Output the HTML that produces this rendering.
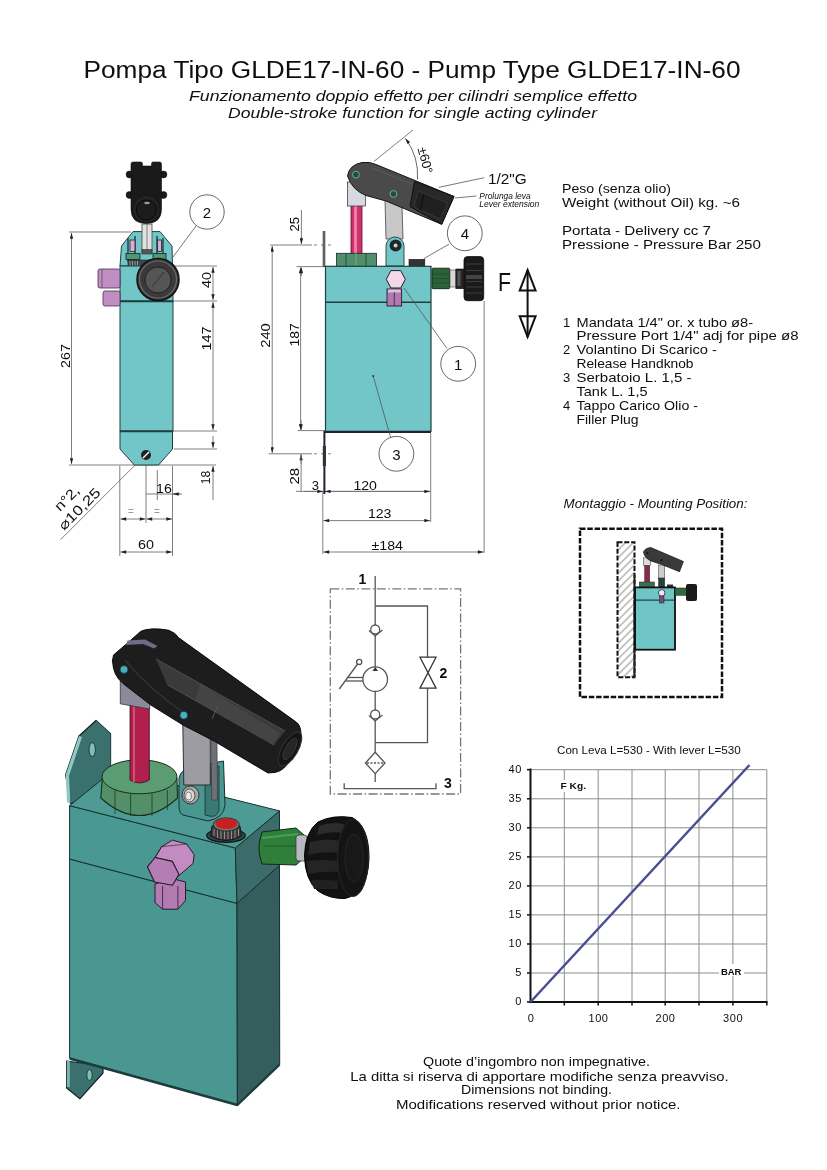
<!DOCTYPE html>
<html><head><meta charset="utf-8">
<style>
html,body{margin:0;padding:0;background:#fff;}
body{width:827px;height:1170px;overflow:hidden;position:relative;}
svg{position:absolute;left:0;top:0;will-change:transform;}
text{font-family:"Liberation Sans",sans-serif;fill:#0e0e0e;}
.dim{stroke:#707070;stroke-width:0.9;fill:none;}
.ldr{stroke:#555;stroke-width:0.8;fill:none;}
.t13{font-size:13px;}
</style></head><body>
<svg width="827" height="1170" viewBox="0 0 827 1170">
<defs>
 <marker id="ar" viewBox="0 0 10 6" refX="10" refY="3" markerWidth="9" markerHeight="3.4" orient="auto-start-reverse" markerUnits="userSpaceOnUse">
  <path d="M0,0 L10,3 L0,6 z" fill="#222"/>
 </marker>
 <pattern id="hatch" patternUnits="userSpaceOnUse" width="5.5" height="6" patternTransform="rotate(45)">
  <line x1="1" y1="0" x2="1" y2="6" stroke="#b4b4b4" stroke-width="1.5"/>
 </pattern>
</defs>

<!-- TITLE -->
<text x="83.5" y="78" font-size="23.5" textLength="657" lengthAdjust="spacingAndGlyphs">Pompa Tipo GLDE17-IN-60 - Pump Type GLDE17-IN-60</text>
<text x="189" y="101" font-size="15" font-style="italic" textLength="448" lengthAdjust="spacingAndGlyphs">Funzionamento doppio effetto per cilindri semplice effetto</text>
<text x="228" y="118" font-size="15" font-style="italic" textLength="369" lengthAdjust="spacingAndGlyphs">Double-stroke function for single acting cylinder</text>

<!-- SIDE_VIEW -->
<g id="side">
 <!-- dimension lines -->
 <g class="dim">
  <line x1="69" y1="232" x2="131" y2="232"/>
  <line x1="69" y1="465" x2="216" y2="465"/>
  <line x1="71.5" y1="233" x2="71.5" y2="464" marker-start="url(#ar)" marker-end="url(#ar)"/>
  <line x1="173" y1="266" x2="217" y2="266"/>
  <line x1="173" y1="301" x2="217" y2="301"/>
  <line x1="173" y1="431" x2="217" y2="431"/>
  <line x1="174" y1="449" x2="217" y2="449"/>
  <line x1="213" y1="267" x2="213" y2="300" marker-start="url(#ar)" marker-end="url(#ar)"/>
  <line x1="213" y1="302" x2="213" y2="430" marker-start="url(#ar)" marker-end="url(#ar)"/>
  <line x1="213" y1="436" x2="213" y2="448" marker-end="url(#ar)"/>
  <line x1="213" y1="500" x2="213" y2="466" marker-end="url(#ar)"/>
  <line x1="119.8" y1="466" x2="119.8" y2="556"/>
  <line x1="172.5" y1="466" x2="172.5" y2="556"/>
  <line x1="146" y1="458" x2="146" y2="523"/>
  <line x1="157.3" y1="470" x2="157.3" y2="500"/>
  <line x1="146" y1="494" x2="180" y2="494"/>
  <line x1="182" y1="494" x2="173" y2="494" marker-end="url(#ar)"/>
  <line x1="120.5" y1="519" x2="145.5" y2="519" marker-start="url(#ar)" marker-end="url(#ar)"/>
  <line x1="146.5" y1="519" x2="172" y2="519" marker-start="url(#ar)" marker-end="url(#ar)"/>
  <line x1="120.5" y1="552" x2="172" y2="552" marker-start="url(#ar)" marker-end="url(#ar)"/>
  <line x1="135.5" y1="464.7" x2="60.5" y2="539.7"/>
 </g>
 <g font-size="13" fill="#222">
  <text transform="translate(69.8,356) rotate(-90)" text-anchor="middle" textLength="24" lengthAdjust="spacingAndGlyphs">267</text>
  <text transform="translate(211,280) rotate(-90)" text-anchor="middle" textLength="16" lengthAdjust="spacingAndGlyphs">40</text>
  <text transform="translate(211,338.6) rotate(-90)" text-anchor="middle" textLength="24" lengthAdjust="spacingAndGlyphs">147</text>
  <text transform="translate(209.5,477.4) rotate(-90)" text-anchor="middle" textLength="13.5" lengthAdjust="spacingAndGlyphs">18</text>
  <text x="156" y="492.5" textLength="15.8" lengthAdjust="spacingAndGlyphs">16</text>
  <text x="131" y="515" text-anchor="middle" style="fill:#999" font-size="10">=</text>
  <text x="157" y="515" text-anchor="middle" style="fill:#999" font-size="10">=</text>
  <text x="138" y="549.4" textLength="16" lengthAdjust="spacingAndGlyphs">60</text>
  <text transform="translate(60,512) rotate(-45)" font-size="14" textLength="29" lengthAdjust="spacingAndGlyphs">n°2,</text>
  <text transform="translate(64,531) rotate(-45)" font-size="14" textLength="53" lengthAdjust="spacingAndGlyphs">⌀10,25</text>
 </g>
 <!-- lever end -->
 <g fill="#1a1a1a" stroke="#0d0d0d" stroke-width="0.6">
  <circle cx="129.5" cy="174.5" r="3.4"/>
  <circle cx="163.5" cy="174.5" r="3.4"/>
  <circle cx="129.5" cy="195" r="3.4"/>
  <circle cx="163.5" cy="195" r="3.4"/>
  <path d="M131,164 Q131,162 133,162 L141,162 Q142.5,162 142.5,164 L142.5,166 L151.5,166 L151.5,164 Q151.5,162 153,162 L159.5,162 Q161.5,162 161.5,164 L161.5,209 Q161.5,223.5 146.3,223.5 Q131,223.5 131,209 z"/>
 </g>
 <circle cx="146.4" cy="209.2" r="14" fill="#222" stroke="#111" stroke-width="0.8"/>
 <circle cx="146.4" cy="210" r="10" fill="#1c1c1c" stroke="#0a0a0a" stroke-width="1"/>
 <ellipse cx="147" cy="203" rx="2.8" ry="1.2" fill="#999"/>
 <!-- upper housing -->
 <polygon points="133,231.6 160,231.6 172,246 172.5,266 120,266 121.5,246" fill="#72c6c8" stroke="#1f3f3f" stroke-width="1"/>
 <path d="M128,238 L128,262 M163,238 L163,262 M135,236 L135,254 M157,236 L157,254" stroke="#123" stroke-width="1.2" fill="none"/>
 <rect x="130" y="240" width="5" height="11.5" fill="#d4b0d4" stroke="#222" stroke-width="0.8"/>
 <rect x="157.5" y="240" width="4" height="11.5" fill="#d4b0d4" stroke="#222" stroke-width="0.8"/>
 <rect x="126" y="253.5" width="14" height="6" fill="#4f9a6a" stroke="#123" stroke-width="0.8"/>
 <rect x="153" y="253.5" width="13" height="6" fill="#4f9a6a" stroke="#123" stroke-width="0.8"/>
 <rect x="128" y="260" width="36" height="6" fill="#3a4a4a" stroke="#123" stroke-width="0.6"/>
 <path d="M130,261 v5 M132.5,261 v5 M135,261 v5 M137.5,261 v5" stroke="#c9a0c9" stroke-width="0.8"/>
 <rect x="142" y="224" width="10" height="30" fill="#e2e2de" stroke="#444" stroke-width="0.8"/>
 <line x1="147" y1="224" x2="147" y2="254" stroke="#444" stroke-width="0.6"/>
 <rect x="142" y="249.5" width="10" height="4" fill="#555" stroke="#222" stroke-width="0.5"/>
 <!-- body -->
 <rect x="120" y="266" width="53" height="35" fill="#72c6c8" stroke="#1f3f3f" stroke-width="1"/>
 <rect x="120" y="301" width="53" height="130" fill="#72c6c8" stroke="#1f3f3f" stroke-width="1"/>
 <line x1="120" y1="301.5" x2="173" y2="301.5" stroke="#1f3f3f" stroke-width="1.6"/>
 <polygon points="120,431 172.5,431 172.5,449 158.5,465 134.3,465 120,449" fill="#72c6c8" stroke="#1f3f3f" stroke-width="1"/>
 <line x1="120" y1="431.5" x2="172.5" y2="431.5" stroke="#1f3f3f" stroke-width="1.6"/>
 <circle cx="146" cy="455" r="5" fill="#222"/>
 <line x1="143" y1="458" x2="149" y2="452" stroke="#fff" stroke-width="1.4"/>
 <!-- pink fitting -->
 <rect x="98" y="269" width="22" height="19" rx="2" fill="#c08ec0" stroke="#4a3050" stroke-width="0.8"/>
 <line x1="102" y1="269" x2="102" y2="288" stroke="#4a3050" stroke-width="0.6"/>
 <rect x="103" y="291" width="17" height="15" rx="2" fill="#c08ec0" stroke="#4a3050" stroke-width="0.8"/>
 <!-- sideknob -->
 <circle cx="158" cy="279.5" r="21" fill="#3a3a3a" stroke="#111" stroke-width="1.5"/>
 <circle cx="158" cy="279.5" r="18.5" fill="none" stroke="#6a6a6a" stroke-width="1.2"/>
 <circle cx="158" cy="280" r="13" fill="#555" stroke="#222" stroke-width="1"/>
 <line x1="152" y1="287" x2="164" y2="272" stroke="#333" stroke-width="1"/>
 <!-- balloon 2 -->
 <circle cx="207" cy="212" r="17.2" fill="#fff" stroke="#555" stroke-width="0.9"/>
 <text x="207" y="217.5" font-size="15" text-anchor="middle">2</text>
 <line class="ldr" x1="196" y1="226" x2="173" y2="257"/>
</g>
<!-- SIDE_VIEW_END -->

<!-- FRONT_VIEW -->
<g id="front">
 <g class="dim">
  <line x1="270" y1="245" x2="312" y2="245"/>
  <line x1="314" y1="245" x2="334" y2="245" stroke-dasharray="3,4"/>
  <line x1="296.6" y1="266.6" x2="325" y2="266.6"/>
  <line x1="268.7" y1="453.8" x2="312" y2="453.8"/>
  <line x1="314" y1="453.8" x2="334" y2="453.8" stroke-dasharray="3,4"/>
  <line x1="297.7" y1="430.6" x2="325" y2="430.6"/>
  <line x1="301.4" y1="210" x2="301.4" y2="244" />
  <line x1="301.4" y1="236" x2="301.4" y2="244" marker-end="url(#ar)"/>
  <line x1="301.4" y1="276" x2="301.4" y2="267.5" marker-end="url(#ar)"/>
  <line x1="272.2" y1="246" x2="272.2" y2="453" marker-start="url(#ar)" marker-end="url(#ar)"/>
  <line x1="300.6" y1="267.5" x2="300.6" y2="430" marker-start="url(#ar)" marker-end="url(#ar)"/>
  <line x1="301.1" y1="420" x2="301.1" y2="430" marker-end="url(#ar)"/>
  <line x1="301.1" y1="464" x2="301.1" y2="454.5" marker-end="url(#ar)"/>
  <line x1="301.1" y1="454" x2="301.1" y2="491.4"/>
  <line x1="296" y1="491.4" x2="430.7" y2="491.4"/>
  <line x1="304" y1="491.4" x2="323" y2="491.4" marker-end="url(#ar)"/>
  <line x1="325" y1="491.4" x2="430" y2="491.4" marker-start="url(#ar)" marker-end="url(#ar)"/>
  <line x1="322.8" y1="491" x2="322.8" y2="554"/>
  <line x1="430.7" y1="433" x2="430.7" y2="522"/>
  <line x1="484.1" y1="301" x2="484.1" y2="553"/>
  <line x1="323.5" y1="520.6" x2="430" y2="520.6" marker-start="url(#ar)" marker-end="url(#ar)"/>
  <line x1="323.5" y1="552" x2="483.5" y2="552" marker-start="url(#ar)" marker-end="url(#ar)"/>
 </g>
 <g font-size="13" fill="#222">
  <text transform="translate(299.2,224.3) rotate(-90)" text-anchor="middle" textLength="14.6" lengthAdjust="spacingAndGlyphs">25</text>
  <text transform="translate(270.4,335.5) rotate(-90)" text-anchor="middle" textLength="24.7" lengthAdjust="spacingAndGlyphs">240</text>
  <text transform="translate(299.4,334.8) rotate(-90)" text-anchor="middle" textLength="23.2" lengthAdjust="spacingAndGlyphs">187</text>
  <text transform="translate(298.6,476.2) rotate(-90)" text-anchor="middle" textLength="16.7" lengthAdjust="spacingAndGlyphs">28</text>
  <text x="311.7" y="489.5">3</text>
  <text x="353.4" y="489.5" textLength="23.6" lengthAdjust="spacingAndGlyphs">120</text>
  <text x="367.9" y="517.9" textLength="23.6" lengthAdjust="spacingAndGlyphs">123</text>
  <text x="371.5" y="549.8" textLength="31.5" lengthAdjust="spacingAndGlyphs">±184</text>
 </g>
 <!-- angle -->
 <line class="dim" x1="374" y1="161.4" x2="413" y2="130" stroke="#555"/>
 <path d="M405.4,138.5 A61.5,61.5 0 0 1 417.5,179.6" fill="none" stroke="#555" stroke-width="0.9" marker-start="url(#ar)"/>
 <text transform="translate(421,161.4) rotate(75)" text-anchor="middle" font-size="13">±60°</text>
 <!-- 1/2"G -->
 <line class="ldr" x1="484.2" y1="177.7" x2="438.7" y2="187.4"/>
 <text x="488" y="183.5" font-size="15" textLength="38.7" lengthAdjust="spacingAndGlyphs">1/2"G</text>
 <line class="ldr" x1="476.4" y1="196" x2="455" y2="198"/>
 <text x="479.3" y="199" font-size="8.5" font-style="italic" textLength="51.3" lengthAdjust="spacingAndGlyphs">Prolunga leva</text>
 <text x="479.3" y="206.7" font-size="8.5" font-style="italic" textLength="60" lengthAdjust="spacingAndGlyphs">Lever extension</text>
 <!-- filler stick -->
 <rect x="323" y="231.6" width="2" height="35" fill="#777" stroke="#222" stroke-width="0.5"/>
 <!-- red rod -->
 <rect x="351" y="205" width="11" height="49" fill="#d0306a" stroke="#5a1030" stroke-width="0.8"/>
 <rect x="354" y="205" width="3" height="49" fill="#f07aa6" />
 <!-- gray block -->
 <rect x="347.4" y="182" width="18" height="24" fill="#d8d8e0" stroke="#444" stroke-width="0.8"/>
 <!-- gray link -->
 <polygon points="385,200 401.8,200 403,239 386,239" fill="#c8c8c8" stroke="#444" stroke-width="0.8"/>
 <!-- teal link base -->
 <path d="M386,266 L386,246 A9,9 0 0 1 404,246 L404,266 z" fill="#72c6c8" stroke="#1f3f3f" stroke-width="0.9"/>
 <circle cx="395.6" cy="245.5" r="6" fill="#1a2a2a"/>
 <circle cx="395.6" cy="245.5" r="2" fill="#f0c0d0"/>
 <!-- lever -->
 <path d="M347.5,176 Q349,165 362,162.5 Q370,161.5 376,164.5 L454,196.5 L441.7,224.3 L386,201 L366,195.5 Q352,190 347.5,176 z" fill="#4a4a4a" stroke="#151515" stroke-width="1"/>
 <path d="M414.5,181.5 L454,196.5 L441.7,224.3 L410,206.5 z" fill="#282828" stroke="#111" stroke-width="1"/>
 <path d="M418,191 L448,203 L440,219 L414,207 z" fill="#202020" stroke="#3a3a3a" stroke-width="0.8"/>
 <path d="M424,194 L420,210" stroke="#111" stroke-width="1.2"/>
 <path d="M372,168 L412,184" stroke="#5a5a5a" stroke-width="1"/>
 <circle cx="355.9" cy="174.7" r="3.4" fill="#2a4a40" stroke="#7fb" stroke-width="0.6"/>
 <circle cx="393.5" cy="194" r="3.4" fill="#2a4a40" stroke="#7fb" stroke-width="0.6"/>
 <!-- green nut -->
 <rect x="336.5" y="253.3" width="40" height="13.3" fill="#4f8f6a" stroke="#223" stroke-width="0.8"/>
 <line x1="346" y1="253.3" x2="346" y2="266.6" stroke="#223" stroke-width="0.6"/>
 <line x1="356" y1="253.3" x2="356" y2="266.6" stroke="#6fb08a" stroke-width="1"/>
 <line x1="366" y1="253.3" x2="366" y2="266.6" stroke="#223" stroke-width="0.6"/>
 <!-- filler plug -->
 <rect x="409" y="259.4" width="15.8" height="7.2" fill="#333" stroke="#111" stroke-width="0.6"/>
 <!-- body -->
 <rect x="325.5" y="266.3" width="105.5" height="165" fill="#72c6c8" stroke="#1f3f3f" stroke-width="1.2"/>
 <line x1="325.5" y1="302.2" x2="431" y2="302.2" stroke="#1f3f3f" stroke-width="1.4"/>
 <!-- bracket -->
 <polyline points="324.4,494 324.4,432 431,432" fill="none" stroke="#223" stroke-width="2"/>
 <rect x="322.8" y="446" width="3.2" height="20" fill="#333"/>
 <!-- hex nut -->
 <polygon points="386.3,279.3 390.9,270.6 400.7,270.6 405.3,279.3 400.7,288 390.9,288" fill="#f2d8e8" stroke="#2a1a2a" stroke-width="1"/>
 <rect x="387" y="289" width="14.6" height="17" fill="#b07ab0" stroke="#2a1a2a" stroke-width="0.9"/>
 <rect x="388" y="289.5" width="12.6" height="3" fill="#e0c0e0"/>
 <line x1="394.3" y1="292" x2="394.3" y2="306" stroke="#2a1a2a" stroke-width="0.7"/>
 <!-- green fitting + knob -->
 <rect x="432" y="268.2" width="17.7" height="20.5" rx="1" fill="#2d6138" stroke="#0f2a14" stroke-width="0.9"/>
 <path d="M433,274 H449 M433,278.5 H449 M433,283 H449" stroke="#1c4a26" stroke-width="0.7"/>
 <rect x="450" y="270" width="6" height="17" fill="#d8d8d8" stroke="#444" stroke-width="0.6"/>
 <rect x="455.9" y="269" width="8.5" height="19.7" fill="#262626" stroke="#111" stroke-width="0.6"/>
 <rect x="457.5" y="271" width="3" height="15" fill="#555"/>
 <rect x="464" y="256.6" width="19.7" height="44.1" rx="3.5" fill="#1a1a1a" stroke="#0a0a0a" stroke-width="0.8"/>
 <path d="M466,264 H482 M466,270.5 H482 M466,276 H482 M466,281.5 H482 M466,287 H482 M466,293 H482" stroke="#3c3c3c" stroke-width="1"/>
 <rect x="466" y="275" width="16" height="4" fill="#444"/>
 <!-- F arrow -->
 <text x="498" y="290.6" font-size="25" textLength="13" lengthAdjust="spacingAndGlyphs">F</text>
 <g stroke="#111" stroke-width="2" fill="none" stroke-linejoin="miter">
  <line x1="527.6" y1="270" x2="527.6" y2="337"/>
  <polygon points="527.6,270 519.7,290.6 535.6,290.6"/>
  <polygon points="519.7,316.2 535.6,316.2 527.6,337"/>
 </g>
 <!-- balloons -->
 <g fill="#fff" stroke="#555" stroke-width="0.9">
  <circle cx="464.8" cy="233.3" r="17.4"/>
  <circle cx="458.2" cy="363.8" r="17.4"/>
  <circle cx="396.4" cy="453.8" r="17.4"/>
 </g>
 <line class="ldr" x1="449" y1="244.2" x2="423.7" y2="258.7"/>
 <line class="ldr" x1="447" y1="348.5" x2="404" y2="288"/>
 <line class="ldr" x1="373.2" y1="376" x2="390.6" y2="437.5"/>
 <circle cx="373.2" cy="376" r="1" fill="#333"/>
 <g font-size="15" text-anchor="middle">
  <text x="464.8" y="239">4</text>
  <text x="458.2" y="369.5">1</text>
  <text x="396.4" y="459.5">3</text>
 </g>
</g>
<!-- FRONT_VIEW_END -->

<!-- SPECS -->
<g class="t13">
<text x="562" y="193" font-size="13" textLength="109" lengthAdjust="spacingAndGlyphs">Peso (senza olio)</text>
<text x="562" y="207" font-size="13" textLength="178" lengthAdjust="spacingAndGlyphs">Weight (without Oil) kg. ~6</text>
<text x="562" y="234.5" font-size="13" textLength="149" lengthAdjust="spacingAndGlyphs">Portata - Delivery cc 7</text>
<text x="562" y="248.5" font-size="13" textLength="199" lengthAdjust="spacingAndGlyphs">Pressione - Pressure Bar 250</text>

<text x="563" y="326.5" font-size="13">1</text>
<text x="576.5" y="326.5" font-size="13" textLength="176.5" lengthAdjust="spacingAndGlyphs">Mandata 1/4" or. x tubo ø8-</text>
<text x="576.5" y="340.3" font-size="13" textLength="222" lengthAdjust="spacingAndGlyphs">Pressure Port 1/4" adj for pipe ø8</text>
<text x="563" y="354.4" font-size="13">2</text>
<text x="576.5" y="354.4" font-size="13" textLength="140.5" lengthAdjust="spacingAndGlyphs">Volantino Di Scarico -</text>
<text x="576.5" y="368" font-size="13" textLength="117" lengthAdjust="spacingAndGlyphs">Release Handknob</text>
<text x="563" y="382" font-size="13">3</text>
<text x="576.5" y="382" font-size="13" textLength="115" lengthAdjust="spacingAndGlyphs">Serbatoio L. 1,5 -</text>
<text x="576.5" y="395.5" font-size="13" textLength="71" lengthAdjust="spacingAndGlyphs">Tank L. 1,5</text>
<text x="563" y="409.7" font-size="13">4</text>
<text x="576.5" y="409.7" font-size="13" textLength="121.5" lengthAdjust="spacingAndGlyphs">Tappo Carico Olio -</text>
<text x="576.5" y="423.8" font-size="13" textLength="62" lengthAdjust="spacingAndGlyphs">Filler Plug</text>
</g>

<!-- MOUNT -->
<g id="mount">
 <text x="563.6" y="508.1" font-size="12.5" font-style="italic" textLength="183.8" lengthAdjust="spacingAndGlyphs">Montaggio - Mounting Position:</text>
 <rect x="580" y="528.7" width="142" height="168.3" fill="none" stroke="#111" stroke-width="2.5" stroke-dasharray="5.5,1.8"/>
 <rect x="617.5" y="542.2" width="17" height="135" fill="url(#hatch)" stroke="#111" stroke-width="2" stroke-dasharray="5,1.8"/>
 <!-- mini pump -->
 <rect x="633.5" y="575" width="2" height="102" fill="#222"/>
 <rect x="644.7" y="565" width="5" height="18.5" fill="#8a2a4a" stroke="#222" stroke-width="0.5"/>
 <rect x="643.5" y="557.8" width="7" height="7.5" fill="#ddd" stroke="#333" stroke-width="0.5"/>
 <rect x="658.6" y="565" width="6.1" height="14" fill="#ccc" stroke="#333" stroke-width="0.5"/>
 <rect x="658.6" y="578" width="6.1" height="9" fill="#2a4040" stroke="#222" stroke-width="0.5"/>
 <path d="M643.5,552 Q645,548 650.8,547.5 L683.4,561.5 L679.5,571.7 L661.7,564.5 L651,561 Q644.5,558 643.5,552 z" fill="#3a3a3a" stroke="#111" stroke-width="0.7"/>
 <circle cx="647.5" cy="553" r="1" fill="#111"/><circle cx="661.5" cy="560" r="1" fill="#111"/>
 <rect x="639.3" y="582" width="15.1" height="5.4" fill="#3e6e50" stroke="#222" stroke-width="0.5"/>
 <rect x="667" y="584.5" width="6" height="3" fill="#333"/>
 <rect x="635.1" y="587.4" width="39.9" height="62.3" fill="#6fc4c4" stroke="#111" stroke-width="1.8"/>
 <line x1="635.1" y1="600.1" x2="675" y2="600.1" stroke="#123" stroke-width="1"/>
 <circle cx="661.7" cy="592.9" r="3.3" fill="#f4e4f4" stroke="#223" stroke-width="0.8"/>
 <rect x="659.5" y="596" width="4.5" height="7" fill="#7a4a7a" stroke="#223" stroke-width="0.5"/>
 <rect x="675" y="588" width="12" height="7.3" fill="#2f6a40" stroke="#112" stroke-width="0.5"/>
 <rect x="686" y="584" width="11" height="17" rx="2" fill="#1a1a1a"/>
</g>
<!-- MOUNT_END -->

<!-- SCHEMATIC -->
<g id="schem" stroke="#555" stroke-width="1.3" fill="none">
 <rect x="330.3" y="588.8" width="130.3" height="205.2" stroke="#777" stroke-dasharray="9,2.5,1.5,2.5"/>
 <line x1="375.2" y1="576" x2="375.2" y2="625"/>
 <line x1="375.2" y1="636" x2="375.2" y2="667"/>
 <line x1="375.2" y1="691.5" x2="375.2" y2="710"/>
 <line x1="375.2" y1="721" x2="375.2" y2="752.5"/>
 <line x1="375.2" y1="773.5" x2="375.2" y2="782"/>
 <polyline points="375.2,606 427.5,606 427.5,657.2"/>
 <polyline points="427.5,688.2 427.5,742.7 375.2,742.7"/>
 <!-- check valves -->
 <circle cx="375.2" cy="629.5" r="4.5"/>
 <polyline points="369,630.5 375.2,636 382.5,630"/>
 <circle cx="375.2" cy="714.5" r="4.5"/>
 <polyline points="369,715.5 375.2,721 382.5,715"/>
 <!-- pump -->
 <circle cx="375.2" cy="679.2" r="12.3"/>
 <polygon points="375.2,667 372.5,671 378,671" fill="#333" stroke="none"/>
 <line x1="339.3" y1="689" x2="357.6" y2="664"/>
 <circle cx="359.2" cy="661.9" r="2.6"/>
 <line x1="348" y1="677.5" x2="363" y2="677.5"/>
 <line x1="346" y1="681" x2="363" y2="681"/>
 <!-- valve 2 -->
 <polygon points="420,657.2 436,657.2 420,688.2 436,688.2" stroke="#333"/>
 <!-- filter -->
 <polygon points="375.2,752.3 385,763 375.2,773.6 365.4,763"/>
 <line x1="367" y1="763" x2="383.5" y2="763" stroke-dasharray="2,1.5"/>
 <!-- tank -->
 <polyline points="344.2,783.3 344.2,788.6 436,788.6 436,783.3"/>
</g>
<g font-size="14" font-weight="bold" fill="#111" text-anchor="middle">
 <text x="362.4" y="583.5">1</text>
 <text x="443.5" y="677.5">2</text>
 <text x="447.8" y="787.5">3</text>
</g>
<!-- SCHEMATIC_END -->

<!-- ISO -->
<g id="iso" stroke-linejoin="round">
 <!-- top flange -->
 <polygon points="65.7,774.8 79,736 96,720.4 110.5,733.7 110.5,789.3 70.5,803.8" fill="#3a706e" stroke="#0f2625" stroke-width="1.3"/>
 <polygon points="65.7,774.8 79,736 82,737 69,776 70.5,803.8 67,802" fill="#8fc9c4" stroke="none"/>
 <ellipse cx="92.2" cy="749.6" rx="3.2" ry="7" fill="#7fbdb8" stroke="#17302f" stroke-width="0.9"/>
 <!-- bottom flange -->
 <polygon points="66.6,1061 66.6,1088 80,1098.7 103,1073 103,1066" fill="#3a706e" stroke="#0f2625" stroke-width="1.2"/>
 <rect x="66.8" y="1061" width="3" height="26" fill="#7fb5b0"/>
 <ellipse cx="89.5" cy="1075" rx="2.6" ry="5.5" fill="#7fbdb8" stroke="#17302f" stroke-width="0.8"/>
 <!-- box body -->
 <polygon points="69.6,859 237,903.4 237.4,1104.7 69.6,1058" fill="#4a9691" stroke="#14302e" stroke-width="1"/>
 <polygon points="237,903.4 279.5,865.3 279.7,1064 237.4,1104.7" fill="#345e5e" stroke="#14302e" stroke-width="1"/>
 <polyline points="69.6,1058.5 237.4,1105 279.7,1064.5" fill="none" stroke="#1d3d3c" stroke-width="2.4"/>
 <!-- upper block -->
 <polygon points="69.6,805.7 235.3,848 237,903.4 69.6,859" fill="#4a9893" stroke="#14302e" stroke-width="1"/>
 <polygon points="235.3,848 279.5,810.9 279.5,865.3 237,903.4" fill="#3b6b6a" stroke="#14302e" stroke-width="1"/>
 <polygon points="69.6,805.7 114.1,769.6 279.5,810.9 235.3,848" fill="#4e9b96" stroke="#14302e" stroke-width="1"/>
 <!-- flange sits on top-left -->
 <polygon points="96,720.4 110.5,733.7 110.5,772 100,772 96,760" fill="#3a706e" stroke="none"/>
 <!-- red plug -->
 <ellipse cx="226" cy="835.6" rx="19.3" ry="6.8" fill="#2a4a4a" stroke="#111" stroke-width="1.2"/>
 <path d="M212,826 L210.5,836 Q226,845 241.5,836 L240,826 z" fill="#3a3a3a" stroke="#111" stroke-width="0.9"/>
 <path d="M214,829 v7 M217.5,830 v8 M221,830 v9 M224.5,830 v9 M228,830 v9 M231.5,830 v9 M235,830 v8 M238.5,829 v7" stroke="#9a8a8a" stroke-width="1"/>
 <ellipse cx="226.3" cy="824.5" rx="13" ry="6.6" fill="#777" stroke="#222" stroke-width="0.9"/>
 <ellipse cx="226.3" cy="823.6" rx="11" ry="5.4" fill="#c82020" stroke="none"/>
 <!-- green cap -->
 <path d="M102.3,778 L100.8,798 Q139.5,833 177.5,798 L177,778 z" fill="#538f68" stroke="#15301f" stroke-width="1.1"/>
 <path d="M115,790 v24 M130.6,794 v22 M152,794 v22 M167.4,790 v20" stroke="#1f3a2a" stroke-width="0.8"/>
 <ellipse cx="139.5" cy="776.8" rx="37.5" ry="17" fill="#5c9c72" stroke="#15301f" stroke-width="1"/>
 <!-- red rod -->
 <path d="M130,703 L130,780 Q139.5,786 149.3,780 L149.3,708 z" fill="#b01f4e" stroke="#3a0a1a" stroke-width="0.8"/>
 <path d="M134,705 L134,782" stroke="#d0507a" stroke-width="2"/>
 <!-- teal bracket -->
 <path d="M179,778 Q181,768 196,766 L223.5,761 L225,805 Q224,818 208,821 L183,815 Q179,813 179,806 z" fill="#4a9691" stroke="#17302f" stroke-width="1"/>
 <path d="M205,769 L219,766 L219,810 Q217,818 209,816 L205,815 z" fill="#3a7a76" stroke="#17302f" stroke-width="0.8"/>
 <!-- gray link -->
 <polygon points="182.8,724 210.3,738 210.3,785 183.8,785" fill="#9c9ca2" stroke="#222" stroke-width="0.9"/>
 <polygon points="211,738 217,741 217.5,800 211.7,800" fill="#6f6f78" stroke="#333" stroke-width="0.6"/>
 <!-- nut -->
 <ellipse cx="190.5" cy="795" rx="8.5" ry="9" fill="#a8a8a8" stroke="#2a2a2a" stroke-width="0.9"/>
 <ellipse cx="189.5" cy="795.5" rx="5.5" ry="6.5" fill="#d6d6d6" stroke="#333" stroke-width="0.8"/>
 <ellipse cx="188.5" cy="796" rx="3" ry="4" fill="#eee" stroke="#555" stroke-width="0.7"/>
 <!-- gray block -->
 <polygon points="120.3,681 150.8,696 149.5,709 120.3,703.8" fill="#8b8a9c" stroke="#333" stroke-width="0.8"/>
 <!-- lever -->
 <path d="M112.3,662 L113.5,655 L129,641.8 L140.6,631.4 Q150,627 168.6,630.2 Q176,633 178.7,637.8 L295.5,721.6 Q301.5,725 301,737 L290,760 Q284,771 275,772.4 L268,773 L240,756.4 L214,741 L183,725 L150.8,705 L123,683.5 Q113,675 112.7,662 z" fill="#1d1d1d" stroke="#0a0a0a" stroke-width="1"/>
 <path d="M127.5,640.5 L145,639.5 L157.5,646 L154,648.5 L143,644 L126,645 z" fill="#6e6c88" stroke="none"/>
 <path d="M156,659 L285,731 L274,745 L167,684.5 z" fill="#3a3a3a" stroke="none"/>
 <path d="M200,684 L280,733 L274,744 L195,700 z" fill="#444" stroke="none"/>
 <path d="M156,659 L285,731 M167,684.5 L274,745" stroke="#555" stroke-width="0.9" fill="none"/>
 <path d="M125,660 Q150,690 183,712" stroke="#333" stroke-width="1.2" fill="none"/>
 <path d="M218,705 L212,719" stroke="#555" stroke-width="1" fill="none"/>
 <ellipse cx="290" cy="749" rx="8" ry="19" transform="rotate(30 290 749)" fill="#151515" stroke="#333" stroke-width="1"/>
 <ellipse cx="290" cy="749" rx="4.5" ry="12" transform="rotate(30 290 749)" fill="#262626" stroke="#3a3a3a" stroke-width="0.8"/>
 <circle cx="124" cy="669.5" r="4" fill="#4ab0b8" stroke="#123" stroke-width="0.8"/>
 <circle cx="183.8" cy="715.2" r="4" fill="#4ab0b8" stroke="#123" stroke-width="0.8"/>
 <!-- pink elbow -->
 <path d="M155,884.2 L155,902.7 L162.6,909.2 L177.9,909.2 L185.5,900.5 L185.5,882 L170,878 z" fill="#b27cb2" stroke="#2a1a2a" stroke-width="1"/>
 <path d="M162.6,886 L162.6,909 M177.9,886 L177.9,909" stroke="#2a1a2a" stroke-width="0.8"/>
 <path d="M161.6,846.7 L172.4,840.1 L186.6,844 L194.2,854.8 L193,863.5 L179,875.5 L172.4,861.4 L155,857.5 z" fill="#c28cc2" stroke="#2a1a2a" stroke-width="1"/>
 <path d="M155,857.5 L161.6,846.7 L186.6,844" fill="none" stroke="#2a1a2a" stroke-width="0.6"/>
 <polygon points="147.4,866.8 155,857.5 172.4,861.4 179,874.4 172.4,885.3 154.5,882" fill="#b47eb4" stroke="#2a1a2a" stroke-width="1.1"/>
 <!-- green fitting -->
 <path d="M262,832 L296,828 L304,835 L304,858 L296,865 L262,864 Q256,848 262,832 z" fill="#2f7f3a" stroke="#0f2a12" stroke-width="1"/>
 <path d="M264,846 L302,846" stroke="#1c5a25" stroke-width="1"/>
 <path d="M262,838 L298,834" stroke="#4aa055" stroke-width="2"/>
 <rect x="296" y="835" width="11" height="26" rx="3" fill="#b8b8c0" stroke="#333" stroke-width="0.7"/>
 <!-- isoknob -->
 <path d="M318,822 Q333,814.5 352,817.5 Q369,826 369,858 Q368,893 345,898.5 Q330,899 318,891 Q305,880 304.5,856 Q305,832 318,822 z" fill="#121212" stroke="#000" stroke-width="1"/>
 <path d="M319,826 Q330,821 344,824 L343,833 Q330,831 317,835 z" fill="#2c2c2c"/>
 <path d="M310,842 Q325,838 340,841 L339,853 Q324,851 308,855 z" fill="#272727"/>
 <path d="M307,861 Q322,859 338,861 L338,872 Q322,871 308,874 z" fill="#242424"/>
 <path d="M311,880 Q324,879 338,881 L338,889 Q325,889 314,889 z" fill="#202020"/>
 <ellipse cx="353" cy="858" rx="15.5" ry="38.5" fill="#141414" stroke="#262626" stroke-width="1"/>
 <ellipse cx="354" cy="858" rx="9" ry="24" fill="#181818" stroke="#2a2a2a" stroke-width="0.8"/>
</g>
<!-- ISO_END -->


<!-- CHART -->
<g id="chart">
 <text x="557" y="754" font-size="11" fill="#222" textLength="183.7" lengthAdjust="spacingAndGlyphs">Con Leva L=530 - With lever L=530</text>
 <g stroke="#8c8c8c" stroke-width="1" fill="none">
  <line x1="530.5" y1="769.7" x2="766.8" y2="769.7"/>
  <line x1="530.5" y1="798.8" x2="766.8" y2="798.8"/>
  <line x1="530.5" y1="827.8" x2="766.8" y2="827.8"/>
  <line x1="530.5" y1="856.9" x2="766.8" y2="856.9"/>
  <line x1="530.5" y1="885.9" x2="766.8" y2="885.9"/>
  <line x1="530.5" y1="914.9" x2="766.8" y2="914.9"/>
  <line x1="530.5" y1="944.0" x2="766.8" y2="944.0"/>
  <line x1="530.5" y1="973.0" x2="766.8" y2="973.0"/>
  <line x1="564.3" y1="769.7" x2="564.3" y2="1002"/>
  <line x1="598.2" y1="769.7" x2="598.2" y2="1002"/>
  <line x1="632.0" y1="769.7" x2="632.0" y2="1002"/>
  <line x1="665.2" y1="769.7" x2="665.2" y2="1002"/>
  <line x1="699.0" y1="769.7" x2="699.0" y2="1002"/>
  <line x1="732.9" y1="769.7" x2="732.9" y2="1002"/>
  <line x1="766.8" y1="769.7" x2="766.8" y2="1002"/>
 </g>
 <g stroke="#111" stroke-width="2" fill="none">
  <line x1="530.5" y1="768.5" x2="530.5" y2="1003"/>
  <line x1="529.5" y1="1002" x2="767.5" y2="1002"/>
 </g>
 <g stroke="#111" stroke-width="1.5">
  <line x1="527" y1="769.7" x2="530" y2="769.7"/>
  <line x1="527" y1="798.8" x2="530" y2="798.8"/>
  <line x1="527" y1="827.8" x2="530" y2="827.8"/>
  <line x1="527" y1="856.9" x2="530" y2="856.9"/>
  <line x1="527" y1="885.9" x2="530" y2="885.9"/>
  <line x1="527" y1="914.9" x2="530" y2="914.9"/>
  <line x1="527" y1="944.0" x2="530" y2="944.0"/>
  <line x1="527" y1="973.0" x2="530" y2="973.0"/>
  <line x1="527" y1="1002" x2="530" y2="1002"/>
  <line x1="564.3" y1="1002" x2="564.3" y2="1005.5"/>
  <line x1="598.2" y1="1002" x2="598.2" y2="1005.5"/>
  <line x1="632.0" y1="1002" x2="632.0" y2="1005.5"/>
  <line x1="665.2" y1="1002" x2="665.2" y2="1005.5"/>
  <line x1="699.0" y1="1002" x2="699.0" y2="1005.5"/>
  <line x1="732.9" y1="1002" x2="732.9" y2="1005.5"/>
  <line x1="766.8" y1="1002" x2="766.8" y2="1005.5"/>
 </g>
 <line x1="530.5" y1="1002" x2="749.5" y2="765" stroke="#474f92" stroke-width="2.5"/>
 <g font-size="11" fill="#222" text-anchor="end" letter-spacing="0.6">
  <text x="522" y="772.8">40</text>
  <text x="522" y="801.9">35</text>
  <text x="522" y="830.9">30</text>
  <text x="522" y="860">25</text>
  <text x="522" y="889">20</text>
  <text x="522" y="918">15</text>
  <text x="522" y="947.1">10</text>
  <text x="522" y="976.1">5</text>
  <text x="522" y="1005.1">0</text>
 </g>
 <g font-size="11" fill="#222" text-anchor="middle" letter-spacing="0.6">
  <text x="531" y="1022.3">0</text>
  <text x="598.5" y="1022.3">100</text>
  <text x="665.5" y="1022.3">200</text>
  <text x="733.2" y="1022.3">300</text>
 </g>
 <rect x="559" y="780" width="29" height="12" fill="#fff"/>
 <rect x="719" y="964" width="25" height="12" fill="#fff"/>
 <text x="560.6" y="789.2" font-size="9.5" font-weight="bold" fill="#222" textLength="25.4" lengthAdjust="spacingAndGlyphs">F Kg.</text>
 <text x="731.2" y="974.5" font-size="9.5" font-weight="bold" fill="#222" text-anchor="middle">BAR</text>
</g>
<!-- CHART_END -->

<!-- FOOTER -->
<text x="423" y="1066.4" font-size="13" textLength="227" lengthAdjust="spacingAndGlyphs">Quote d’ingombro non impegnative.</text>
<text x="350.3" y="1080.6" font-size="13" textLength="378.4" lengthAdjust="spacingAndGlyphs">La ditta si riserva di apportare modifiche senza preavviso.</text>
<text x="461" y="1094.3" font-size="13" textLength="151" lengthAdjust="spacingAndGlyphs">Dimensions not binding.</text>
<text x="396" y="1108.6" font-size="13" textLength="284.4" lengthAdjust="spacingAndGlyphs">Modifications reserved without prior notice.</text>
</svg>
</body></html>
